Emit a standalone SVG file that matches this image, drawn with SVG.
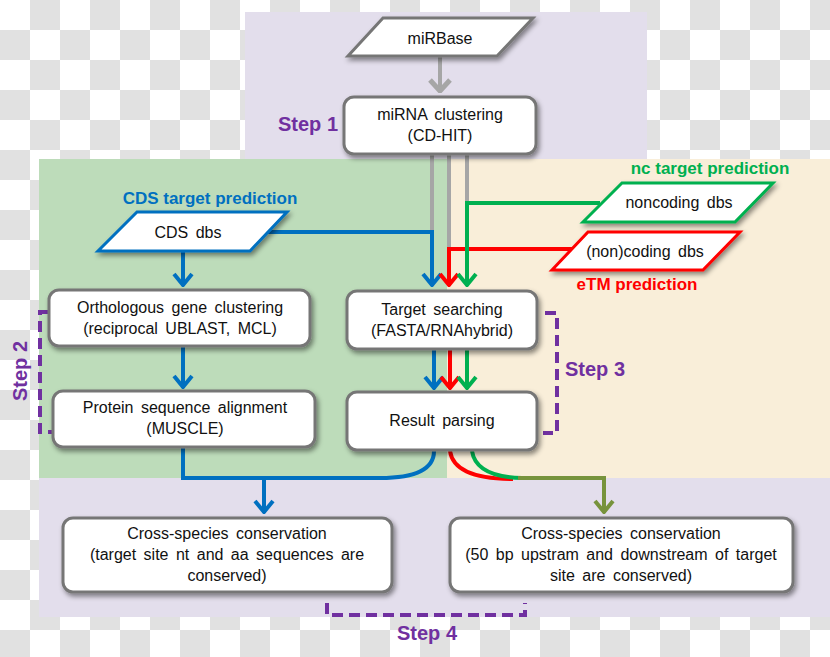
<svg xmlns="http://www.w3.org/2000/svg" width="830" height="657" viewBox="0 0 830 657">
<defs>
<pattern id="chk" width="60" height="60" patternUnits="userSpaceOnUse">
<rect width="60" height="60" fill="#ffffff"/>
<rect x="30" y="0" width="30" height="30" fill="#e1e1e1"/>
<rect x="0" y="30" width="30" height="30" fill="#e1e1e1"/>
</pattern>
<filter id="sh" x="-10%" y="-20%" width="130%" height="150%">
<feDropShadow dx="2" dy="3" stdDeviation="2.5" flood-color="#000" flood-opacity="0.45"/>
</filter>
<marker id="aBlue" viewBox="-14 -12 16 24" refX="1" refY="0" markerWidth="16" markerHeight="24" markerUnits="userSpaceOnUse" orient="auto"><path d="M-11,-9 L0,0 L-11,9" fill="none" stroke="#0070c0" stroke-width="4"/></marker>
<marker id="aRed" viewBox="-14 -12 16 24" refX="1" refY="0" markerWidth="16" markerHeight="24" markerUnits="userSpaceOnUse" orient="auto"><path d="M-11,-9 L0,0 L-11,9" fill="none" stroke="#ff0000" stroke-width="4"/></marker>
<marker id="aGreen" viewBox="-14 -12 16 24" refX="1" refY="0" markerWidth="16" markerHeight="24" markerUnits="userSpaceOnUse" orient="auto"><path d="M-11,-9 L0,0 L-11,9" fill="none" stroke="#00b050" stroke-width="4"/></marker>
<marker id="aOlive" viewBox="-14 -12 16 24" refX="1" refY="0" markerWidth="16" markerHeight="24" markerUnits="userSpaceOnUse" orient="auto"><path d="M-11,-9 L0,0 L-11,9" fill="none" stroke="#77933c" stroke-width="4"/></marker>
<marker id="aGray" viewBox="-14 -12 16 24" refX="1" refY="0" markerWidth="16" markerHeight="24" markerUnits="userSpaceOnUse" orient="auto"><path d="M-11,-10 L0,0 L-11,10" fill="none" stroke="#a6a6a6" stroke-width="5"/></marker>
</defs>
<style>
text{font-family:"Liberation Sans",Arial,sans-serif;}
.t{font-size:16px;fill:#111;text-anchor:middle;word-spacing:3px;}
.box{fill:#ffffff;stroke:#767676;stroke-width:3;filter:url(#sh);}
.lbl{font-weight:bold;font-size:17px;text-anchor:middle;}
.step{font-weight:bold;font-size:20px;fill:#7030a0;}
.dash{fill:none;stroke:#7030a0;stroke-width:4;stroke-dasharray:11 6;}
.ln{fill:none;stroke-width:4;}
</style>
<rect width="830" height="657" fill="url(#chk)"/>
<g id="regions">
<rect x="245" y="12" width="402" height="148" fill="#e3deec"/>
<rect x="39" y="159" width="408" height="319" fill="#bddcba"/>
<rect x="447" y="159" width="383" height="319" fill="#f9eed9"/>
<rect x="39" y="478" width="791" height="139" fill="#e3deec"/>
</g>
<g id="connectors">
<path class="ln" d="M440,57 L440,92" stroke="#a6a6a6" stroke-width="5" marker-end="url(#aGray)"/>
<path class="ln" d="M432,155 L432,234" stroke="#a6a6a6" stroke-width="4.5"/>
<path class="ln" d="M449,155 L449,250" stroke="#a6a6a6" stroke-width="4.5"/>
<path class="ln" d="M467,155 L467,204" stroke="#a6a6a6" stroke-width="4.5"/>
<path class="ln" d="M262,232 L432,232 L432,286" stroke="#0070c0" marker-end="url(#aBlue)"/>
<path class="ln" d="M573,249 L449,249 L449,286" stroke="#ff0000" marker-end="url(#aRed)"/>
<path class="ln" d="M600,203 L467,203 L467,286" stroke="#00b050" marker-end="url(#aGreen)"/>
<path class="ln" d="M183,252 L183,286" stroke="#0070c0" marker-end="url(#aBlue)"/>
<path class="ln" d="M183,347 L183,388" stroke="#0070c0" marker-end="url(#aBlue)"/>
<path class="ln" d="M434,350 L434,389" stroke="#0070c0" marker-end="url(#aBlue)"/>
<path class="ln" d="M450,350 L450,389" stroke="#ff0000" marker-end="url(#aRed)"/>
<path class="ln" d="M467,350 L467,389" stroke="#00b050" marker-end="url(#aGreen)"/>
<path class="ln" d="M183,448 L183,478 L380,478 Q434,478 434,451" stroke="#0070c0"/>
<path class="ln" d="M264,478 L264,513" stroke="#0070c0" marker-end="url(#aBlue)"/>
<path class="ln" d="M450,451 Q454,479 513,479" stroke="#ff0000"/>
<path class="ln" d="M472,451 Q476,477 522,478" stroke="#00b050"/>
<path class="ln" d="M518,478 L604,478 L604,513" stroke="#77933c" marker-end="url(#aOlive)"/>
</g>
<g id="step-brackets">
<path class="dash" d="M48,312 L40,312 L40,432 L52,432"/>
<path class="dash" d="M545,313 L557,313 L557,433 L543,433"/>
<path class="dash" d="M327,603 L327,615 L525,615 L525,603"/>
<text class="step" x="278" y="131">Step 1</text>
<text class="step" transform="translate(27,371) rotate(-90)" text-anchor="middle">Step 2</text>
<text class="step" x="565" y="376">Step 3</text>
<text class="step" x="427" y="640" text-anchor="middle">Step 4</text>
</g>
<g id="mirbase">
<polygon class="box" points="383,18 533,18 497,56 348,56" stroke-width="2.5"/>
<text class="t" x="440" y="44">miRBase</text>
</g>
<g id="mirna-clustering">
<rect class="box" x="344" y="97" width="192" height="57" rx="10"/>
<text class="t" x="440" y="120">miRNA clustering</text>
<text class="t" x="440" y="141">(CD-HIT)</text>
</g>
<g id="cds-dbs">
<text class="lbl" x="210" y="204" fill="#0070c0">CDS target prediction</text>
<polygon class="box" points="137,212 287,212 250,251 98,251" style="stroke:#0070c0"/>
<text class="t" x="188" y="238">CDS dbs</text>
</g>
<g id="noncoding-dbs">
<text class="lbl" x="710" y="174" fill="#00b050">nc target prediction</text>
<polygon class="box" points="622,183 773,183 735,222 583,222" style="stroke:#00b050"/>
<text class="t" x="679" y="208">noncoding dbs</text>
</g>
<g id="noncoding-dbs-etm">
<polygon class="box" points="588,232 740,232 703,270 552,270" style="stroke:#ff0000"/>
<text class="t" x="645" y="257">(non)coding dbs</text>
<text class="lbl" x="637" y="290" fill="#ff0000">eTM prediction</text>
</g>
<g id="orthologous">
<rect class="box" x="49" y="290" width="261" height="56" rx="10"/>
<text class="t" x="180" y="313">Orthologous gene clustering</text>
<text class="t" x="180" y="334">(reciprocal UBLAST, MCL)</text>
</g>
<g id="protein-alignment">
<rect class="box" x="53" y="391" width="262" height="56" rx="10"/>
<text class="t" x="185" y="413">Protein sequence alignment</text>
<text class="t" x="185" y="434">(MUSCLE)</text>
</g>
<g id="target-searching">
<rect class="box" x="347" y="291" width="190" height="58" rx="10"/>
<text class="t" x="442" y="315">Target searching</text>
<text class="t" x="442" y="336">(FASTA/RNAhybrid)</text>
</g>
<g id="result-parsing">
<rect class="box" x="347" y="392" width="190" height="58" rx="10"/>
<text class="t" x="442" y="426">Result parsing</text>
</g>
<g id="conservation-cds">
<rect class="box" x="63" y="518" width="329" height="74" rx="10"/>
<text class="t" x="227" y="539">Cross-species conservation</text>
<text class="t" x="227" y="560">(target site nt and aa sequences are</text>
<text class="t" x="227" y="581">conserved)</text>
</g>
<g id="conservation-nc">
<rect class="box" x="450" y="518" width="343" height="74" rx="10"/>
<text class="t" x="621" y="539">Cross-species conservation</text>
<text class="t" x="621" y="560">(50 bp upstram and downstream of target</text>
<text class="t" x="621" y="581">site are conserved)</text>
</g>
</svg>
